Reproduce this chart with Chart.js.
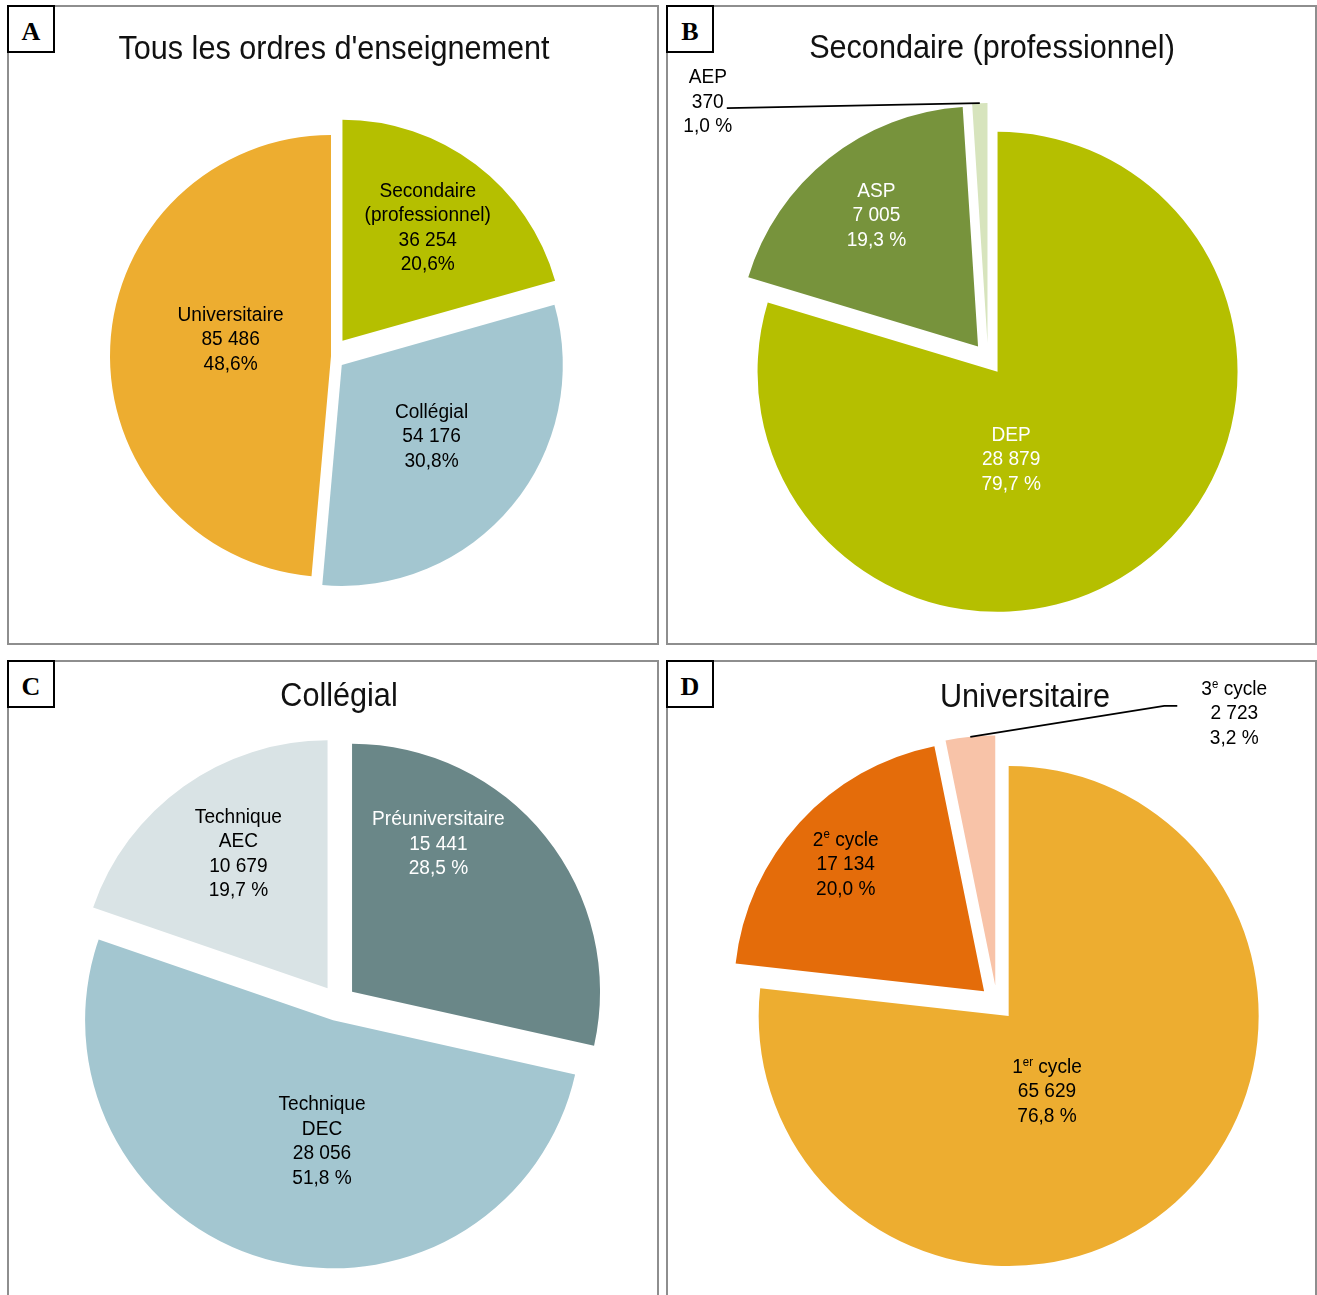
<!DOCTYPE html>
<html lang="fr">
<head>
<meta charset="utf-8">
<script src="https://cdn.jsdelivr.net/npm/chart.js@4.4.1/dist/chart.umd.min.js"></script>
<style>
  body { margin: 0; background: #fff; }
  #page { position: relative; width: 1317px; height: 1295px; overflow: hidden; font-family: "Liberation Sans", Arial, sans-serif; }
  .panel { position: absolute; border: 2px solid #8e8e8e; box-sizing: border-box; }
  .tag { position: absolute; width: 48px; height: 48px; border: 2px solid #000; box-sizing: border-box; background: #fff; z-index: 3; }
  .tag span { position: absolute; left: 0; right: 0; top: 13px; text-align: center; font: bold 26px/24px "Liberation Serif", "Times New Roman", serif; color: #000; }
  .title { position: absolute; transform: translateX(-50%) scaleX(0.9); font-size: 34px; line-height: 34px; color: #111; white-space: nowrap; z-index: 2; }
  canvas { position: absolute; z-index: 1; }
</style>
</head>
<body>
<div id="page">
  <div class="panel" style="left:7px;top:5px;width:652px;height:640px"></div>
  <div class="panel" style="left:666px;top:5px;width:651px;height:640px"></div>
  <div class="panel" style="left:7px;top:660px;width:652px;height:700px"></div>
  <div class="panel" style="left:666px;top:660px;width:651px;height:700px"></div>

  <div class="tag" style="left:7px;top:5px"><span>A</span></div>
  <div class="tag" style="left:666px;top:5px"><span>B</span></div>
  <div class="tag" style="left:7px;top:660px"><span>C</span></div>
  <div class="tag" style="left:666px;top:660px"><span>D</span></div>

  <div class="title" style="left:334px;top:30px">Tous les ordres d'enseignement</div>
  <div class="title" style="left:992px;top:29px">Secondaire (professionnel)</div>
  <div class="title" style="left:339px;top:677px">Collégial</div>
  <div class="title" style="left:1025px;top:678px">Universitaire</div>

  <canvas id="pieA"></canvas>
  <canvas id="pieB"></canvas>
  <canvas id="pieC"></canvas>
  <canvas id="pieD"></canvas>
</div>

<script>
// A - tous les ordres d'enseignement
const catsA = ['Secondaire\n(professionnel)', 'Collégial', 'Universitaire'];
const valsA = [36254, 54176, 85486];

// B - secondaire (professionnel)
const catsB = ['DEP', 'ASP', 'AEP'];
const valsB = [28879, 7005, 370];

// C - collégial
const catsC = ['Préuniversitaire', 'Technique\nDEC', 'Technique\nAEC'];
const valsC = [15441, 28056, 10679];

// D - universitaire
const catsD = ['1<sup>er</sup> cycle', '2<sup>e</sup> cycle', '3<sup>e</sup> cycle'];
const valsD = [65629, 17134, 2723];

const LABEL_FONT = '"Liberation Sans", Arial, sans-serif';
const SQUEEZE = 0.955; // labels use a slightly condensed face

const fmtNum = n => String(n).replace(/\B(?=(\d{3})+(?!\d))/g, ' ');
const fmtPct = (v, total, sep) => (v / total * 100).toFixed(1).replace('.', ',') + sep + '%';

// one line of text, with optional <sup>..</sup> parts, centred on x
function drawLine(ctx, text, x, y) {
    const segs = text.split(/(<sup>.*?<\/sup>)/).filter(s => s.length).map(s => {
        const sup = s.startsWith('<sup>');
        return { text: sup ? s.slice(5, -6) : s, sup };
    });
    let width = 0;
    segs.forEach(s => {
        ctx.font = s.sup ? `12px ${LABEL_FONT}` : `20px ${LABEL_FONT}`;
        s.w = ctx.measureText(s.text).width;
        width += s.w;
    });
    ctx.save();
    ctx.translate(x, y);
    ctx.scale(SQUEEZE, 1);
    ctx.textAlign = 'left';
    let cx = -width / 2;
    segs.forEach(s => {
        ctx.font = s.sup ? `12px ${LABEL_FONT}` : `20px ${LABEL_FONT}`;
        ctx.fillText(s.text, cx, s.sup ? -5 : 0);
        cx += s.w;
    });
    ctx.restore();
}

function drawBlock(ctx, lines, x, y, color) {
    const lh = 24.6;
    ctx.fillStyle = color;
    ctx.textBaseline = 'middle';
    const top = y - (lines.length - 1) * lh / 2;
    lines.forEach((l, i) => drawLine(ctx, l, x, top + i * lh));
}

const sliceLabels = {
    id: 'sliceLabels',
    // pull each slice out of the pie along its middle angle (exploded pie)
    beforeDatasetsDraw(chart, args, opts) {
        const area = chart.chartArea;
        const cx = (area.left + area.right) / 2;
        const cy = (area.top + area.bottom) / 2;
        chart.getDatasetMeta(0).data.forEach((arc, i) => {
            const mid = (arc.startAngle + arc.endAngle) / 2;
            arc.x = cx + Math.cos(mid) * opts.moves[i];
            arc.y = cy + Math.sin(mid) * opts.moves[i];
        });
    },
    afterDatasetsDraw(chart, args, opts) {
        const ctx = chart.ctx;
        const ds = chart.data.datasets[0];
        const total = ds.data.reduce((a, b) => a + b, 0);
        ctx.save();
        chart.getDatasetMeta(0).data.forEach((arc, i) => {
            const mid = (arc.startAngle + arc.endAngle) / 2;
            const R = arc.outerRadius;
            const spot = opts.spots[i];
            const lines = [...chart.data.labels[i].split('\n'), fmtNum(ds.data[i]), fmtPct(ds.data[i], total, opts.pctSep)];

            if (spot.callout) {
                const ax = arc.x + Math.cos(mid) * R;
                const ay = arc.y + Math.sin(mid) * R;
                ctx.strokeStyle = '#000';
                ctx.lineWidth = 1.6;
                ctx.beginPath();
                ctx.moveTo(ax, ay);
                spot.callout.path.forEach(pt => ctx.lineTo(ax + pt[0], ay + pt[1]));
                ctx.stroke();
                drawBlock(ctx, lines, ax + spot.callout.label[0], ay + spot.callout.label[1], spot.color);
            } else {
                const a = mid + spot.turn * Math.PI / 180;
                const r = spot.frac * R;
                drawBlock(ctx, lines, arc.x + Math.cos(a) * r, arc.y + Math.sin(a) * r, spot.color);
            }
        });
        ctx.restore();
    }
};

const pies = [
    {
        id: 'pieA', box: [7, 5, 652, 640], center: [331, 356], radius: 221,
        cats: catsA, vals: valsA, pctSep: '',
        colors: ['#B5BF00', '#A3C6D0', '#EDAD30'],
        moves: [19, 14, 0],
        spots: [
            { frac: 0.64, turn: 0, color: '#000' },
            { frac: 0.52, turn: -1, color: '#000' },
            { frac: 0.46, turn: 6.6, color: '#000' }
        ]
    },
    {
        id: 'pieB', box: [666, 5, 651, 640], center: [988, 359], radius: 240,
        cats: catsB, vals: valsB, pctSep: ' ',
        colors: ['#B5BF00', '#77933C', '#D7E4BD'],
        moves: [16, 16, 16],
        spots: [
            { frac: 0.37, turn: 27.8, color: '#fff' },
            { frac: 0.69, turn: 0.6, color: '#fff' },
            { callout: { path: [[-253, 5]], label: [-272, -1] }, color: '#000' }
        ]
    },
    {
        id: 'pieC', box: [7, 660, 652, 635], center: [338, 1003], radius: 248,
        cats: catsC, vals: valsC, pctSep: ' ',
        colors: ['#6A8788', '#A3C6D0', '#D9E3E5'],
        moves: [18, 18, 18],
        spots: [
            { frac: 0.69, turn: -21, color: '#fff' },
            { frac: 0.49, turn: -10.6, color: '#000' },
            { frac: 0.65, turn: 1.9, color: '#000' }
        ]
    },
    {
        id: 'pieD', box: [666, 660, 651, 635], center: [997, 1003], radius: 250,
        cats: catsD, vals: valsD, pctSep: ' ',
        colors: ['#EDAD30', '#E46C0A', '#F8C3A8'],
        moves: [17.5, 17.5, 17.5],
        spots: [
            { frac: 0.34, turn: 15, color: '#000' },
            { frac: 0.75, turn: 0, color: '#000' },
            { callout: { path: [[194, -31], [207, -31]], label: [264, -23] }, color: '#000' }
        ]
    }
];

pies.forEach(p => {
    const canvas = document.getElementById(p.id);
    const [bx, by, bw, bh] = p.box;
    canvas.width = bw;
    canvas.height = bh;
    canvas.style.left = bx + 'px';
    canvas.style.top = by + 'px';
    canvas.style.width = bw + 'px';
    canvas.style.height = bh + 'px';

    // padding so the chart area is centred on the pie centre
    const lx = p.center[0] - bx, ly = p.center[1] - by;
    const padding = {
        left: Math.max(0, 2 * lx - bw), right: Math.max(0, bw - 2 * lx),
        top: Math.max(0, 2 * ly - bh), bottom: Math.max(0, bh - 2 * ly)
    };

    new Chart(canvas, {
        type: 'pie',
        data: {
            labels: p.cats,
            datasets: [{
                data: p.vals,
                backgroundColor: p.colors,
                borderWidth: 0,
                offset: 0
            }]
        },
        options: {
            responsive: false,
            animation: false,
            events: [],
            radius: p.radius,
            layout: { padding },
            plugins: {
                legend: { display: false },
                tooltip: { enabled: false },
                sliceLabels: { spots: p.spots, moves: p.moves, pctSep: p.pctSep }
            }
        },
        plugins: [sliceLabels]
    });
});
</script>
</body>
</html>
